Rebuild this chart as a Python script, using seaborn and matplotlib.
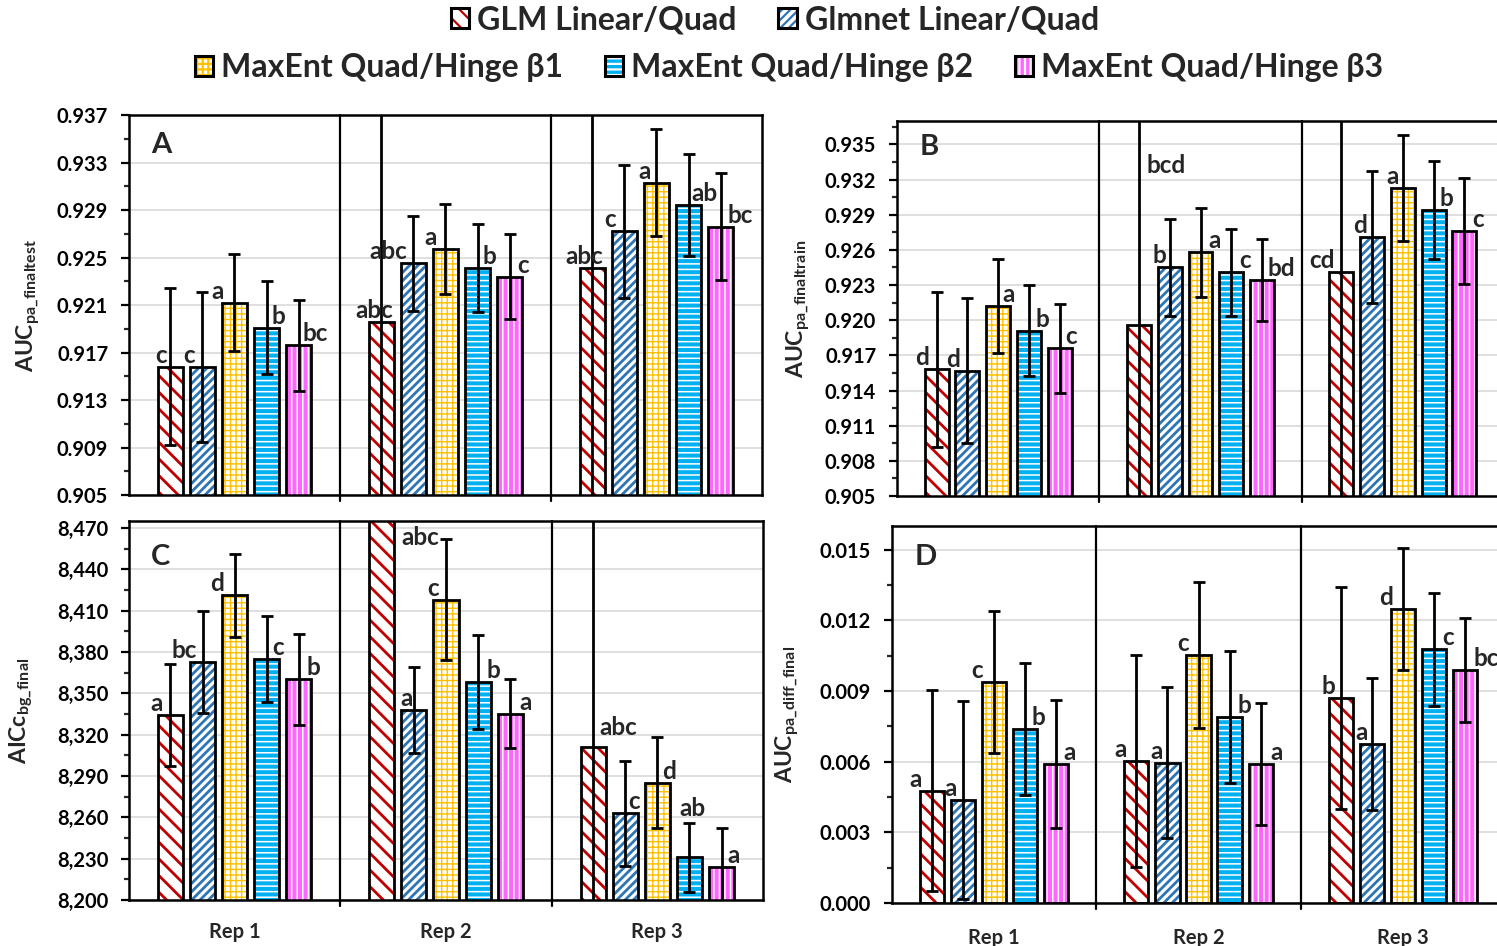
import numpy as np
import pandas as pd
import matplotlib
matplotlib.use("Agg")
import matplotlib.pyplot as plt
import seaborn as sns
from matplotlib.patches import Patch, Rectangle
from matplotlib.ticker import FixedLocator, FuncFormatter
from matplotlib.legend_handler import HandlerTuple

# ---------------- data ----------------
reps = ["Rep 1", "Rep 2", "Rep 3"]
models = ["GLM Linear/Quad", "Glmnet Linear/Quad", "MaxEnt Quad/Hinge β1",
          "MaxEnt Quad/Hinge β2", "MaxEnt Quad/Hinge β3"]

# rows = models, columns = reps
a_mean = [[0.9158, 0.9196, 0.9241],
          [0.9158, 0.9245, 0.9272],
          [0.9212, 0.9257, 0.9313],
          [0.9191, 0.9241, 0.9294],
          [0.9176, 0.9234, 0.9276]]
a_err = [[0.0066, 0.0300, 0.0300],
         [0.0063, 0.0040, 0.0056],
         [0.0041, 0.0038, 0.0045],
         [0.0039, 0.0037, 0.0043],
         [0.0038, 0.0036, 0.0045]]
a_letters = [["c", "abc", "abc"], ["c", "abc", "c"], ["a", "a", "a"],
             ["b", "b", "ab"], ["bc", "c", "bc"]]

b_mean = [[0.9158, 0.9196, 0.9241],
          [0.9157, 0.9245, 0.9271],
          [0.9212, 0.9258, 0.9313],
          [0.9191, 0.9241, 0.9294],
          [0.9176, 0.9234, 0.9276]]
b_err = [[0.0066, 0.0300, 0.0300],
         [0.0062, 0.0041, 0.0056],
         [0.0040, 0.0038, 0.0045],
         [0.0039, 0.0037, 0.0042],
         [0.0038, 0.0035, 0.0045]]
b_letters = [["d", "bcd", "cd"], ["d", "b", "d"], ["a", "a", "a"],
             ["b", "c", "b"], ["c", "bd", "c"]]

c_mean = [[8334, 8530, 8311],
          [8373, 8338, 8263],
          [8421, 8418, 8285],
          [8375, 8358, 8231],
          [8360, 8335, 8224]]
c_err = [[37, 40, 300],
         [37, 31, 38],
         [30, 44, 33],
         [31, 34, 25],
         [33, 25, 28]]
c_letters = [["a", "abc", "abc"], ["bc", "a", "c"], ["d", "c", "d"],
             ["c", "b", "ab"], ["b", "a", "a"]]

d_mean = [[0.00477, 0.00602, 0.00871],
          [0.00439, 0.00595, 0.00673],
          [0.00938, 0.01052, 0.01247],
          [0.00737, 0.00791, 0.01077],
          [0.00590, 0.00590, 0.00989]]
d_err = [[0.00425, 0.0045, 0.0047],
         [0.0042, 0.0032, 0.0028],
         [0.0030, 0.0031, 0.0026],
         [0.0028, 0.0028, 0.0024],
         [0.0027, 0.0026, 0.0022]]
d_letters = [["a", "a", "b"], ["a", "a", "a"], ["c", "c", "d"],
             ["b", "b", "c"], ["a", "a", "bc"]]

# ---------------- label placement (pixels offset from bar centre) ----------------
a_dx = [[-9, -7, -8], [-13, -25, -14], [-17, -15, -12], [12, 12, 16], [17, 13, 20]]
b_dx = [[-15, 27, -19], [-14, -10, -12], [10, 14, -10], [13, 14, 13], [11, 19, 14]]
c_dx = [[-14, 38, 25], [-18, -7, 9], [-18, -13, 12], [11, 15, 3], [14, 15, 12]]
d_dx = [[-16, -16, -12], [-13, -11, -10], [-17, -15, -17], [13, 15, 14], [13, 16, 21]]
b_ylab = {(0, 1): 0.9322}
c_ylab = {(0, 1): 8455, (0, 2): 8317, (3, 2): 8258}

# ---------------- style ----------------
sns.set_style("white")
plt.rcParams["font.family"] = ["Lato", "DejaVu Sans"]
plt.rcParams["font.weight"] = "bold"
plt.rcParams["mathtext.fontset"] = "custom"
plt.rcParams["mathtext.rm"] = "Lato"
plt.rcParams["mathtext.bf"] = "Lato:bold"
plt.rcParams["hatch.linewidth"] = 1.6

face_colors = ["white", "white", "white", "#00B0F0", "#FF66FF"]
hatch_colors = ["#C00000", "#2E75B6", "#FFC000", "white", "white"]
hatches = ["\\\\", "////", "+++", "---", "|||"]
hatch_lw = [2.0, 2.0, 1.0, 1.1, 1.1]
EDGE_LW = 2.0
LABEL_FS = 17.5

fig = plt.figure(figsize=(14.97, 9.46), dpi=100)
W, H = 1497.0, 946.0


def axes_px(x0, y0, x1, y1):
    return fig.add_axes([x0 / W, 1 - y1 / H, (x1 - x0) / W, (y1 - y0) / H])


def style_patch(p, i):
    p.set_facecolor(face_colors[i])
    p.set_hatch(hatches[i])
    p.set_edgecolor(hatch_colors[i])
    p.set_linewidth(0)
    if hasattr(p, "set_hatch_linewidth"):
        p.set_hatch_linewidth(hatch_lw[i])


def draw_panel(ax, means, errs, letters, dxs, ylab_over, ylim, majors, minors,
               fmt, ylabel, letter, letter_pos, ylabel_x, show_x, xpad):
    rows = []
    for i, m in enumerate(models):
        for j, r in enumerate(reps):
            rows.append({"rep": r, "model": m, "value": means[i][j], "err": errs[i][j]})
    df = pd.DataFrame(rows)
    sns.barplot(data=df, x="rep", y="value", hue="model", order=reps,
                hue_order=models, errorbar=None, width=0.76, gap=0.22,
                ax=ax, legend=False, palette=["white"] * 5, zorder=2)
    ax.set_ylim(*ylim)
    ax.set_xlim(-0.5, 2.5)
    bar_conts = list(ax.containers)
    for i, cont in enumerate(bar_conts):
        xs, ys, es = [], [], []
        for j, p in enumerate(cont.patches):
            style_patch(p, i)
            ax.add_patch(Rectangle(p.get_xy(), p.get_width(), p.get_height(),
                                   fill=False, edgecolor="black", lw=EDGE_LW,
                                   zorder=3))
            xc = p.get_x() + p.get_width() / 2
            xs.append(xc)
            ys.append(means[i][j])
            es.append(errs[i][j])
            ytxt = ylab_over.get((i, j), means[i][j])
            ax.annotate(letters[i][j], xy=(xc, ytxt), xytext=(dxs[i][j], 0),
                        textcoords="offset pixels", ha="center", va="bottom",
                        fontsize=LABEL_FS, fontweight="bold", zorder=6,
                        annotation_clip=False)
        ax.errorbar(xs, ys, yerr=es, fmt="none", ecolor="black", elinewidth=2.0,
                    capsize=4, capthick=2.0, zorder=5)
    # separators between reps
    for xb in (0.5, 1.5):
        ax.axvline(xb, ymin=-0.015, ymax=1, color="black", lw=1.6,
                   clip_on=False, zorder=4)
    ax.yaxis.set_major_locator(FixedLocator(majors))
    ax.yaxis.set_minor_locator(FixedLocator(minors))
    ax.yaxis.set_major_formatter(FuncFormatter(fmt))
    ax.grid(axis="y", which="major", color="#D9D9D9", lw=1.2)
    ax.set_axisbelow(True)
    ax.tick_params(axis="y", which="major", direction="out", length=6, width=1.6,
                   left=True, labelsize=14.5, pad=9, colors="black")
    ax.tick_params(axis="y", which="minor", direction="out", length=3.5,
                   width=1.6, left=True)
    for lab in ax.get_yticklabels():
        lab.set_fontweight("bold")
    ax.tick_params(axis="x", length=0, pad=xpad, labelsize=14.5)
    if show_x:
        for lab in ax.get_xticklabels():
            lab.set_fontweight("bold")
    else:
        ax.set_xticklabels([])
    ax.set_xlabel("")
    ax.set_ylabel(ylabel, fontsize=16.5)
    ax.yaxis.set_label_coords(ylabel_x, 0.5)
    for s in ax.spines.values():
        s.set_visible(True)
        s.set_color("black")
        s.set_linewidth(1.8)
    ax.text(letter_pos[0], letter_pos[1], letter, transform=ax.transAxes,
            fontsize=21, fontweight="bold", ha="left", va="center", zorder=7)


axA = axes_px(129, 115, 762, 495)
axB = axes_px(897, 121, 1504, 496)
axC = axes_px(129, 521, 763, 900)
axD = axes_px(892, 526, 1505, 903)

f3 = lambda v, p: f"{v:.3f}"
fC = lambda v, p: f"{v:,.0f}"

draw_panel(axA, a_mean, a_err, a_letters, a_dx, {}, (0.905, 0.937),
           np.arange(0.905, 0.9371, 0.004), np.arange(0.905, 0.9371, 0.002), f3,
           r"$\mathbf{AUC}_{\mathrm{pa\_finaltest}}$", "A", (0.035, 0.92), -0.136,
           False, 0)
draw_panel(axB, b_mean, b_err, b_letters, b_dx, b_ylab, (0.905, 0.937),
           np.arange(0.905, 0.9361, 0.003), np.arange(0.905, 0.9371, 0.0015), f3,
           r"$\mathbf{AUC}_{\mathrm{pa\_finaltrain}}$", "B", (0.038, 0.93), -0.138,
           False, 0)
draw_panel(axC, c_mean, c_err, c_letters, c_dx, c_ylab, (8200, 8475),
           np.arange(8200, 8471, 30), np.arange(8200, 8476, 15), fC,
           r"$\mathbf{AICc}_{\mathrm{bg\_final}}$", "C", (0.035, 0.905), -0.146,
           True, 16)
draw_panel(axD, d_mean, d_err, d_letters, d_dx, {}, (0.0, 0.016),
           np.arange(0.0, 0.01501, 0.003), np.arange(0.0, 0.01601, 0.0015), f3,
           r"$\mathbf{AUC}_{\mathrm{pa\_diff\_final}}$", "D", (0.0375, 0.918), -0.147,
           True, 18)

# ---------------- legend ----------------
handles = []
for i in range(5):
    hp = Patch(facecolor=face_colors[i], edgecolor=hatch_colors[i], hatch=hatches[i], lw=0)
    if hasattr(hp, "set_hatch_linewidth"):
        hp.set_hatch_linewidth(hatch_lw[i])
    op = Patch(facecolor="none", edgecolor="black", lw=2.2)
    handles.append((hp, op))

leg_kw = dict(loc="center", ncol=3, frameon=False, handlelength=0.58,
              handleheight=0.58, handletextpad=0.25, columnspacing=1.3,
              prop={"size": 23, "weight": "bold"},
              handler_map={tuple: HandlerTuple(ndivide=1, pad=0)})
fig.legend(handles[:2], models[:2], bbox_to_anchor=(775 / W, 1 - 20 / H), **leg_kw)
fig.legend(handles[2:], models[2:], bbox_to_anchor=(789 / W, 1 - 68 / H), **leg_kw)

fig.savefig("out.png", dpi=100)
